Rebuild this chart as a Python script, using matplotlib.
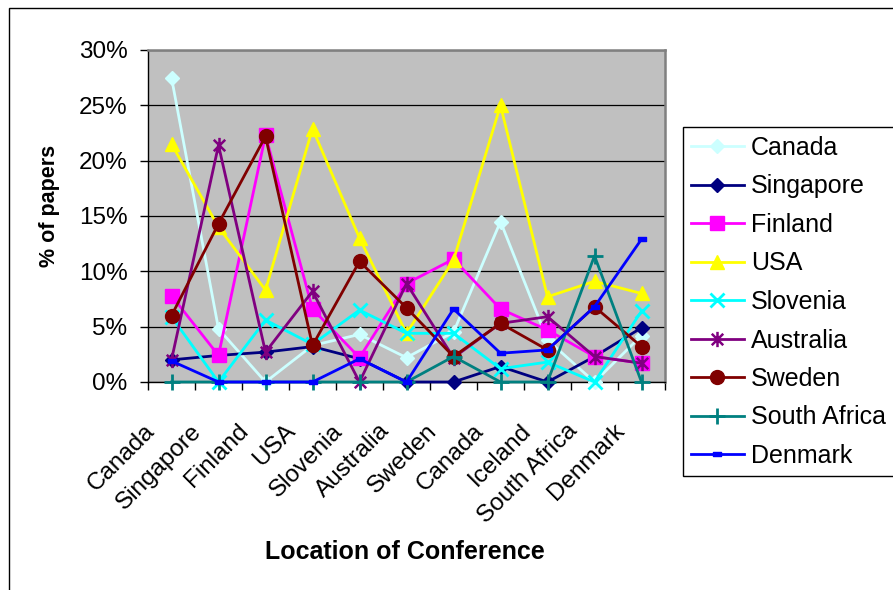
import matplotlib
matplotlib.use("Agg")
import matplotlib.pyplot as plt
from matplotlib.path import Path
from matplotlib.patches import Rectangle
from matplotlib.ticker import PercentFormatter, FixedLocator
from matplotlib.transforms import ScaledTranslation

plt.rcParams['font.family'] = ['Liberation Sans', 'DejaVu Sans']

# Conference locations (x axis)
locations = ["Canada", "Singapore", "Finland", "USA", "Slovenia", "Australia",
             "Sweden", "Canada", "Iceland", "South Africa", "Denmark"]

# Share of papers (%) by author country
canada = [27.5, 4.8, 0.0, 3.3, 4.3, 2.2, 4.5, 14.5, 3.8, 0.0, 4.2]
singapore = [2.0, 2.4, 2.7, 3.2, 2.1, 0.0, 0.0, 1.4, 0.0, 2.3, 4.9]
finland = [7.8, 2.4, 22.3, 6.6, 2.2, 8.9, 11.1, 6.6, 4.7, 2.3, 1.7]
usa = [21.5, 14.0, 8.3, 22.9, 13.0, 4.4, 11.0, 25.0, 7.7, 9.1, 8.0]
slovenia = [5.9, 0.0, 5.6, 3.4, 6.5, 4.4, 4.4, 1.2, 1.8, 0.0, 6.4]
australia = [2.0, 21.4, 2.7, 8.2, 0.0, 8.9, 2.2, 5.3, 5.9, 2.3, 1.7]
sweden = [6.0, 14.3, 22.2, 3.3, 10.9, 6.7, 2.3, 5.3, 2.9, 6.8, 3.2]
south_africa = [0.0, 0.0, 0.0, 0.0, 0.0, 0.0, 2.3, 0.0, 0.0, 11.4, 0.0]
denmark = [1.9, 0.0, 0.0, 0.0, 2.1, 0.0, 6.6, 2.6, 2.9, 6.8, 12.9]

y_ticks = [0, 5, 10, 15, 20, 25, 30]

# custom marker shapes
asterisk = Path([(0, -1), (0, 1), (-0.75, -0.75), (0.75, 0.75), (-0.75, 0.75), (0.75, -0.75)],
                [Path.MOVETO, Path.LINETO, Path.MOVETO, Path.LINETO, Path.MOVETO, Path.LINETO])
dash = Path([(-1, -0.55), (1, -0.55), (1, 0.55), (-1, 0.55), (-1, -0.55)],
            [Path.MOVETO, Path.LINETO, Path.LINETO, Path.LINETO, Path.CLOSEPOLY])

series = [
    ("Canada", canada, "#CCFFFF", "D", 7.0, {}),
    ("Singapore", singapore, "#000080", "D", 7.0, {}),
    ("Finland", finland, "#FF00FF", "s", 9.5, {}),
    ("USA", usa, "#FFFF00", "^", 10.5, {}),
    ("Slovenia", slovenia, "#00FFFF", "x", 9.5, {"markeredgewidth": 2}),
    ("Australia", australia, "#800080", asterisk, 11, {"markeredgewidth": 1.8}),
    ("Sweden", sweden, "#800000", "o", 10, {}),
    ("South Africa", south_africa, "#008080", "+", 11, {"markeredgewidth": 2}),
    ("Denmark", denmark, "#0000FF", dash, 6, {}),
]

W, H = 893, 590
fig = plt.figure(figsize=(W / 100, H / 100), dpi=100)
fig.patch.set_facecolor("white")

# outer chart frame
fig.patches.append(Rectangle((8.5 / W, -0.1), 2.0, 1.1 - 8 / H, transform=fig.transFigure,
                             fill=False, edgecolor="black", linewidth=1.0))

L, R, T, B = 148, 665, 50, 382
ax = fig.add_axes([L / W, 1 - B / H, (R - L) / W, (B - T) / H])
ax.set_facecolor("#C0C0C0")

x = list(range(len(locations)))
handles = []
for name, vals, color, marker, ms, extra in series:
    ln, = ax.plot(x, vals, color=color, linewidth=2.0, marker=marker, markersize=ms,
                  markerfacecolor=color, markeredgecolor=color, clip_on=False,
                  label=name, zorder=3, **extra)
    handles.append(ln)

ax.set_xlim(-0.5, len(locations) - 0.5)
ax.set_ylim(0, 30)

# y axis
ax.set_yticks(y_ticks)
ax.yaxis.set_major_formatter(PercentFormatter(decimals=0))
ax.tick_params(axis="y", direction="out", length=5.8, width=1, pad=9, labelsize=17.5,
               colors="black")
ax.yaxis.grid(True, color="#000000", linewidth=0.9)
ax.set_axisbelow(True)

# x axis: labels at category centres, tick marks between categories
ax.set_xticks(x)
ax.set_xticklabels(locations, rotation=45, ha="right", va="baseline",
                   rotation_mode="anchor", fontsize=17.5)
ax.tick_params(axis="x", which="major", length=0, pad=0)
ax.xaxis.set_minor_locator(FixedLocator([i - 0.5 for i in range(len(locations) + 1)]))
ax.tick_params(axis="x", which="minor", direction="out", length=5.8, width=1)
shift = ScaledTranslation(-16 / 100, -50 / 100, fig.dpi_scale_trans)
for lab in ax.get_xticklabels():
    lab.set_transform(lab.get_transform() + shift)

for side in ("top", "right"):
    ax.spines[side].set_color("#808080")
    ax.spines[side].set_linewidth(1.8)
for side in ("left", "bottom"):
    ax.spines[side].set_color("black")
    ax.spines[side].set_linewidth(1.0)

ax.set_ylabel("% of papers", fontsize=15.5, fontweight="bold")
ax.yaxis.set_label_coords((50 - L) / (R - L), (B - 206) / (B - T))
ax.yaxis.label.set_va("center")
ax.set_xlabel("Location of Conference", fontsize=18, fontweight="bold")
ax.xaxis.set_label_coords((405 - L) / (R - L), (B - 552) / (B - T))
ax.xaxis.label.set_va("center")

# legend box runs past the right edge of the chart area
fig.patches.append(Rectangle((683 / W, 1 - 476 / H), 1.0, (476 - 127) / H,
                             transform=fig.transFigure, facecolor="white",
                             edgecolor="black", linewidth=1.0, zorder=4))
leg = fig.legend(handles, [h.get_label() for h in handles], loc="upper left",
                 bbox_to_anchor=(683 / W, 1 - 128 / H), bbox_transform=fig.transFigure,
                 borderaxespad=0, frameon=False, fontsize=18, handlelength=2.1,
                 handletextpad=0.3, borderpad=0.32, labelspacing=0.58)
leg.set_zorder(5)

fig.savefig("out.png", dpi=100)
